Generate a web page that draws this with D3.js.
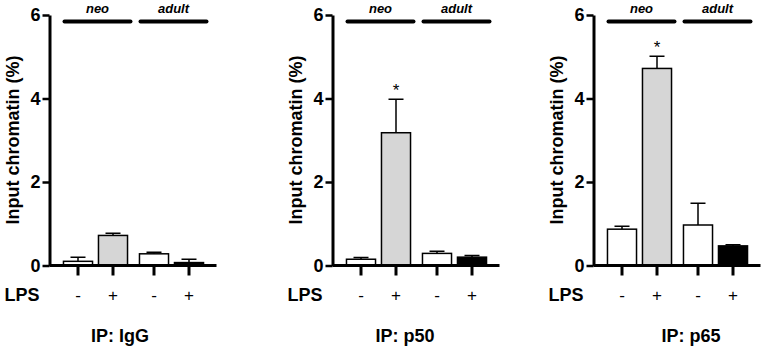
<!DOCTYPE html>
<html><head><meta charset="utf-8">
<script src="https://cdn.jsdelivr.net/npm/d3@7"></script>
<style>body{margin:0;background:#fff}svg{display:block}</style>
</head><body>
<svg id="c" width="765" height="350"></svg>
<script>
// ---- data ----
const groups = ["neo", "adult"];
const lpsLevels = ["-", "+"];
const panelTitles = ["IP: IgG", "IP: p50", "IP: p65"];
const yTicks = [0, 2, 4, 6];
const yLabel = "Input chromatin (%)";
const igGMean = [0.10, 0.72, 0.28, 0.07];
const igGSem  = [0.10, 0.05, 0.04, 0.08];
const p50Mean = [0.15, 3.18, 0.29, 0.20];
const p50Sem  = [0.04, 0.80, 0.05, 0.04];
const p65Mean = [0.87, 4.72, 0.97, 0.47];
const p65Sem  = [0.07, 0.29, 0.52, 0.03];
const significant = [[false,false,false,false],[false,true,false,false],[false,true,false,false]];

// ---- layout ----
const means = [igGMean, p50Mean, p65Mean];
const sems = [igGSem, p50Sem, p65Sem];
const axisX = [49.5, 332.5, 593.5];
const titleX = [120, 405, 691];
const axisLen = 167;
const fills = ["#ffffff", "#d6d6d6", "#ffffff", "#000000"];
const font = "'Liberation Sans', Arial, sans-serif";

const svg = d3.select("#c");
const y = d3.scaleLinear().domain([0, 6]).range([265.5, 15]);
const xg = d3.scaleBand().domain(groups).range([11, 157]).paddingInner(6/76).paddingOuter(0);
const xi = d3.scaleBand().domain(lpsLevels).range([0, xg.bandwidth()]).paddingInner(0.17).paddingOuter(0.085);

panelTitles.forEach((title, p) => {
  const g = svg.append("g").attr("transform", `translate(${axisX[p]},0)`);
  const rows = [];
  groups.forEach((gr, gi) => lpsLevels.forEach((l, li) => {
    const k = gi * 2 + li;
    rows.push({gr, l, k, m: means[p][k], s: sems[p][k], sig: significant[p][k]});
  }));
  const cx = d => xg(d.gr) + xi(d.l) + xi.bandwidth() / 2;

  // y axis
  const ya = g.append("g").call(d3.axisLeft(y).tickValues(yTicks).tickFormat(d3.format("d")).tickSize(7).tickSizeOuter(0).tickPadding(2));
  ya.select(".domain").attr("stroke", "#000").attr("stroke-width", 3);
  ya.selectAll(".tick line").attr("stroke", "#000").attr("stroke-width", 2.5);
  ya.selectAll(".tick text").attr("font-family", font).attr("font-weight", "bold").attr("font-size", 18).attr("fill", "#000");

  // error bars
  g.selectAll(".err").data(rows).join("path").attr("fill", "none").attr("stroke", "#000").attr("stroke-width", 1.5)
    .attr("d", d => `M${cx(d)},${y(d.m)}V${y(d.m + d.s)}M${cx(d) - 7.5},${y(d.m + d.s)}H${cx(d) + 7.5}`);

  // bars
  g.selectAll(".bar").data(rows).join("rect")
    .attr("x", d => xg(d.gr) + xi(d.l)).attr("width", xi.bandwidth())
    .attr("y", d => y(d.m)).attr("height", d => y(0) - y(d.m))
    .attr("fill", d => fills[d.k]).attr("stroke", "#000").attr("stroke-width", 1.5);

  // x axis
  g.append("line").attr("x1", 0).attr("x2", axisLen).attr("y1", y(0)).attr("y2", y(0)).attr("stroke", "#000").attr("stroke-width", 3);
  g.selectAll(".xt").data(rows).join("line").attr("x1", cx).attr("x2", cx).attr("y1", y(0)).attr("y2", y(0) + 10)
    .attr("stroke", "#000").attr("stroke-width", 3);

  // asterisks
  g.selectAll(".sig").data(rows.filter(d => d.sig)).join("text")
    .attr("x", cx).attr("y", d => y(d.m + d.s) - 3).attr("text-anchor", "middle")
    .attr("font-family", font).attr("font-size", 17).attr("fill", "#000").text("*");

  // LPS +/- labels
  g.selectAll(".lps").data(rows).join("text").attr("x", cx).attr("y", 301).attr("text-anchor", "middle")
    .attr("font-family", font).attr("font-size", 17).attr("fill", "#000").text(d => d.l);
  g.append("text").attr("x", -45).attr("y", 301).attr("font-family", font).attr("font-weight", "bold")
    .attr("font-size", 18).attr("fill", "#000").text("LPS");

  // group lines and labels
  groups.forEach(gr => {
    g.append("line").attr("x1", xg(gr) + 4).attr("x2", xg(gr) + xg.bandwidth()).attr("y1", 21.5).attr("y2", 21.5)
      .attr("stroke", "#000").attr("stroke-width", 4).attr("stroke-linecap", "round");
    g.append("text").attr("x", xg(gr) + xg.bandwidth() / 2 + 2).attr("y", 13).attr("text-anchor", "middle")
      .attr("font-family", font).attr("font-weight", "bold").attr("font-style", "italic").attr("font-size", 13)
      .attr("fill", "#000").text(gr);
  });

  // y label
  g.append("text").attr("transform", `translate(-31,140) rotate(-90)`).attr("text-anchor", "middle")
    .attr("font-family", font).attr("font-weight", "bold").attr("font-size", 18).attr("fill", "#000").text(yLabel);

  // title
  svg.append("text").attr("x", titleX[p]).attr("y", 342).attr("text-anchor", "middle")
    .attr("font-family", font).attr("font-weight", "bold").attr("font-size", 18).attr("fill", "#000").text(title);
});
</script>
</body></html>
